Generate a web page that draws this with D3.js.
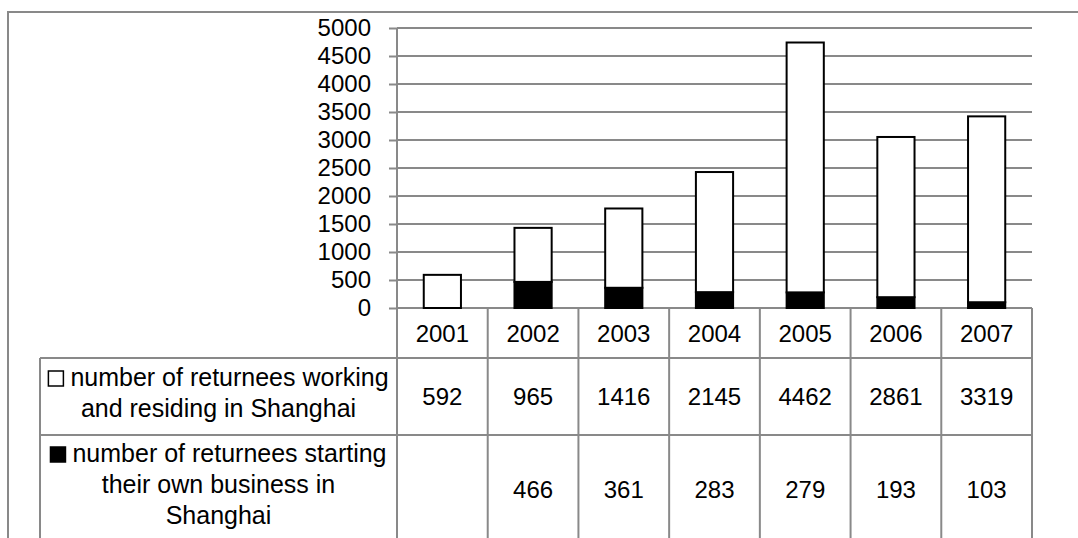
<!DOCTYPE html>
<html lang="en">

<head>
	<meta charset="UTF-8"/>
	<title>Returnees in Shanghai</title>
	<style>
	body {
		margin: 0;
		background: white;
	}
	text {
		font-family: "Liberation Sans", Arial, sans-serif;
		fill: black;
	}
	</style>
	<script src="https://d3js.org/d3.v7.min.js"></script>
</head>
<body>
	<div id="chart"></div>
	<script>

	// data
	var years = ["2001", "2002", "2003", "2004", "2005", "2006", "2007"];
	var working = [592, 965, 1416, 2145, 4462, 2861, 3319];
	var business = [null, 466, 361, 283, 279, 193, 103];
	var yTicks = [0, 500, 1000, 1500, 2000, 2500, 3000, 3500, 4000, 4500, 5000];
	var workingLabel = ["number of returnees working", "and residing in Shanghai"];
	var businessLabel = ["number of returnees starting", "their own business in", "Shanghai"];

	// width and height
	var w = 1078;
	var h = 538;
	var gridColor = "#898989";
	var fontSize = 24;
	var legendFont = 25;

	// plot area
	var plotLeft = 397;
	var plotRight = 1032;
	var plotTop = 28;
	var plotBottom = 308;

	// table rows
	var headerBottom = 358;
	var row2Bottom = 435;
	var row3Bottom = 543;
	var legendLeft = 40;

	var svg = d3.select("#chart")
			.append("svg")
			.attr("width", w)
			.attr("height", h);

	var xCol = d3.scaleBand()
				.domain(years)
				.range([plotLeft, plotRight]);

	var xBar = d3.scaleBand()
				.domain(years)
				.range([plotLeft, plotRight])
				.paddingInner(0.59)
				.paddingOuter(0.295);

	var yScale = d3.scaleLinear()
				.domain([0, 5000])
				.range([plotBottom, plotTop]);

	//outer frame
	svg.append("path")
		.attr("d", "M8," + (h + 5) + "V12H" + (w + 5))
		.attr("fill", "none")
		.attr("stroke", gridColor)
		.attr("stroke-width", 2);

	//gridlines
	svg.selectAll(".grid")
		.data(yTicks)
		.enter()
		.append("line")
		.attr("class", "grid")
		.attr("x1", plotLeft)
		.attr("x2", plotRight)
		.attr("y1", function(d) { return yScale(d); })
		.attr("y2", function(d) { return yScale(d); })
		.attr("stroke", gridColor)
		.attr("stroke-width", 2);

	//y axis
	var yAxis = d3.axisLeft(yScale)
				.tickValues(yTicks)
				.tickSize(8)
				.tickSizeOuter(0)
				.tickPadding(18)
				.tickFormat(d3.format("d"));

	var gy = svg.append("g")
		.attr("transform", "translate(" + plotLeft + ",0)")
		.call(yAxis);
	gy.select(".domain").remove();
	gy.selectAll("line").attr("stroke", gridColor).attr("stroke-width", 2);
	gy.selectAll("text")
		.attr("font-size", fontSize)
		.attr("fill", "black");
	gy.attr("font-family", null).attr("font-size", null);

	//table lines
	var colEdges = years.map(function(d) { return xCol(d); });
	colEdges.push(plotRight);

	svg.selectAll(".vline")
		.data(colEdges)
		.enter()
		.append("line")
		.attr("class", "vline")
		.attr("x1", function(d) { return d; })
		.attr("x2", function(d) { return d; })
		.attr("y1", function(d, i) { return i == 0 ? plotTop : plotBottom; })
		.attr("y2", row3Bottom)
		.attr("stroke", gridColor)
		.attr("stroke-width", 2);

	svg.selectAll(".hline")
		.data([headerBottom, row2Bottom, row3Bottom])
		.enter()
		.append("line")
		.attr("class", "hline")
		.attr("x1", legendLeft)
		.attr("x2", plotRight)
		.attr("y1", function(d) { return d; })
		.attr("y2", function(d) { return d; })
		.attr("stroke", gridColor)
		.attr("stroke-width", 2);

	svg.append("line")
		.attr("x1", legendLeft)
		.attr("x2", legendLeft)
		.attr("y1", headerBottom)
		.attr("y2", row3Bottom)
		.attr("stroke", gridColor)
		.attr("stroke-width", 2);

	//stacked bars
	var stackData = years.map(function(y, i) {
		return { year: y, business: business[i] || 0, working: working[i] };
	});
	var series = d3.stack().keys(["business", "working"])(stackData);
	var fills = { business: "black", working: "white" };

	svg.selectAll(".series")
		.data(series)
		.enter()
		.append("g")
		.attr("class", "series")
		.attr("fill", function(s) { return fills[s.key]; })
		.selectAll("rect")
		.data(function(s) { return s.filter(function(d) { return d[1] > d[0]; }); })
		.enter()
		.append("rect")
		.attr("x", function(d) { return xBar(d.data.year); })
		.attr("y", function(d) { return yScale(d[1]); })
		.attr("width", xBar.bandwidth())
		.attr("height", function(d) { return yScale(d[0]) - yScale(d[1]); })
		.attr("stroke", "black")
		.attr("stroke-width", 2);

	//header row with years
	svg.selectAll(".year")
		.data(years)
		.enter()
		.append("text")
		.attr("class", "year")
		.attr("x", function(d) { return xCol(d) + xCol.bandwidth() / 2; })
		.attr("y", (plotBottom + headerBottom) / 2)
		.attr("dy", "0.36em")
		.attr("text-anchor", "middle")
		.attr("font-size", fontSize)
		.text(function(d) { return d; });

	//value rows
	function valueRow(values, y0, y1) {
		svg.append("g")
			.selectAll("text")
			.data(values)
			.enter()
			.append("text")
			.attr("x", function(d, i) { return xCol(years[i]) + xCol.bandwidth() / 2; })
			.attr("y", (y0 + y1) / 2)
			.attr("dy", "0.36em")
			.attr("text-anchor", "middle")
			.attr("font-size", fontSize)
			.text(function(d) { return d == null ? "" : d; });
	}
	valueRow(working, headerBottom, row2Bottom);
	valueRow(business, row2Bottom, row3Bottom);

	//legend cells
	var lineGap = 31;
	var cellMid = (legendLeft + plotLeft) / 2;

	function legendCell(lines, swatch, baseline) {
		var g = svg.append("g");
		lines.forEach(function(line, i) {
			var t = g.append("text")
				.attr("y", baseline + i * lineGap)
				.attr("font-size", legendFont)
				.text(line);
			var tw = t.node().getComputedTextLength();
			if (i == 0) {
				var total = 15 + 7 + tw;
				var x0 = cellMid - total / 2;
				g.append("rect")
					.attr("x", x0)
					.attr("y", baseline - 15)
					.attr("width", 15)
					.attr("height", 15)
					.attr("fill", swatch)
					.attr("stroke", "black")
					.attr("stroke-width", 1.5);
				t.attr("x", x0 + 22);
			} else {
				t.attr("x", cellMid).attr("text-anchor", "middle");
			}
		});
	}
	legendCell(workingLabel, "white", 386);
	legendCell(businessLabel, "black", 462);

	</script>
</body>
</html>
